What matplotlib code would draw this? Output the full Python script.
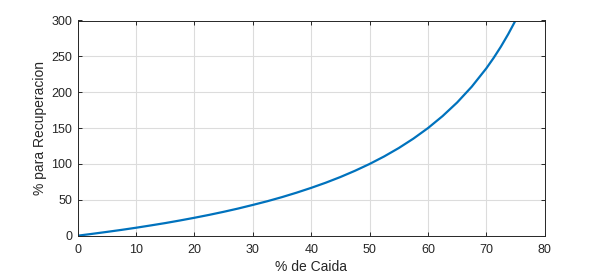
import matplotlib
matplotlib.use('Agg')
import matplotlib.pyplot as plt

# % de caida vs % necesario para recuperar
caida = [0, 2.5, 5, 7.5, 10, 12.5, 15, 17.5, 20, 22.5, 25, 27.5, 30, 32.5, 35,
         37.5, 40, 42.5, 45, 47.5, 50, 52.5, 55, 57.5, 60, 62.5, 65, 67.5, 70,
         71.25, 72.5, 73.75, 75]
recuperacion = [0, 2.6, 5.3, 8.1, 11.1, 14.3, 17.6, 21.2, 25.0, 29.0, 33.3, 37.9,
                42.9, 48.1, 53.8, 60.0, 66.7, 73.9, 81.8, 90.5, 100.0, 110.5,
                122.2, 135.3, 150.0, 166.7, 185.7, 207.7, 233.3, 247.8, 263.6,
                281.0, 300.0]

plt.rcParams['font.family'] = ['Liberation Sans', 'DejaVu Sans']
plt.rcParams['font.size'] = 9

fig = plt.figure(figsize=(6.02, 2.76), dpi=100)
ax = fig.add_axes([77.7 / 602, 1 - 235.7 / 276, (544.7 - 77.7) / 602, (235.7 - 20.5) / 276])

ax.plot(caida, recuperacion, color='#0072BD', linewidth=1.6)

ax.set_xlim(0, 80)
ax.set_ylim(0, 300)
ax.set_xticks(range(0, 81, 10))
ax.set_yticks(range(0, 301, 50))
ax.grid(True, color='#dcdcdc', linewidth=0.8)
ax.set_axisbelow(True)
ax.tick_params(direction='in', top=True, right=True, length=3, colors='#262626',
               labelsize=9, width=0.7)
ax.tick_params(axis='x', pad=6)
ax.tick_params(axis='y', pad=4)
for s in ax.spines.values():
    s.set_color('#262626')
    s.set_linewidth(0.7)

ax.set_xlabel('% de Caida', fontsize=10, color='#262626', labelpad=3)
ax.set_ylabel('% para Recuperacion', fontsize=10, color='#262626', labelpad=3)

fig.savefig('out.png', dpi=100)
